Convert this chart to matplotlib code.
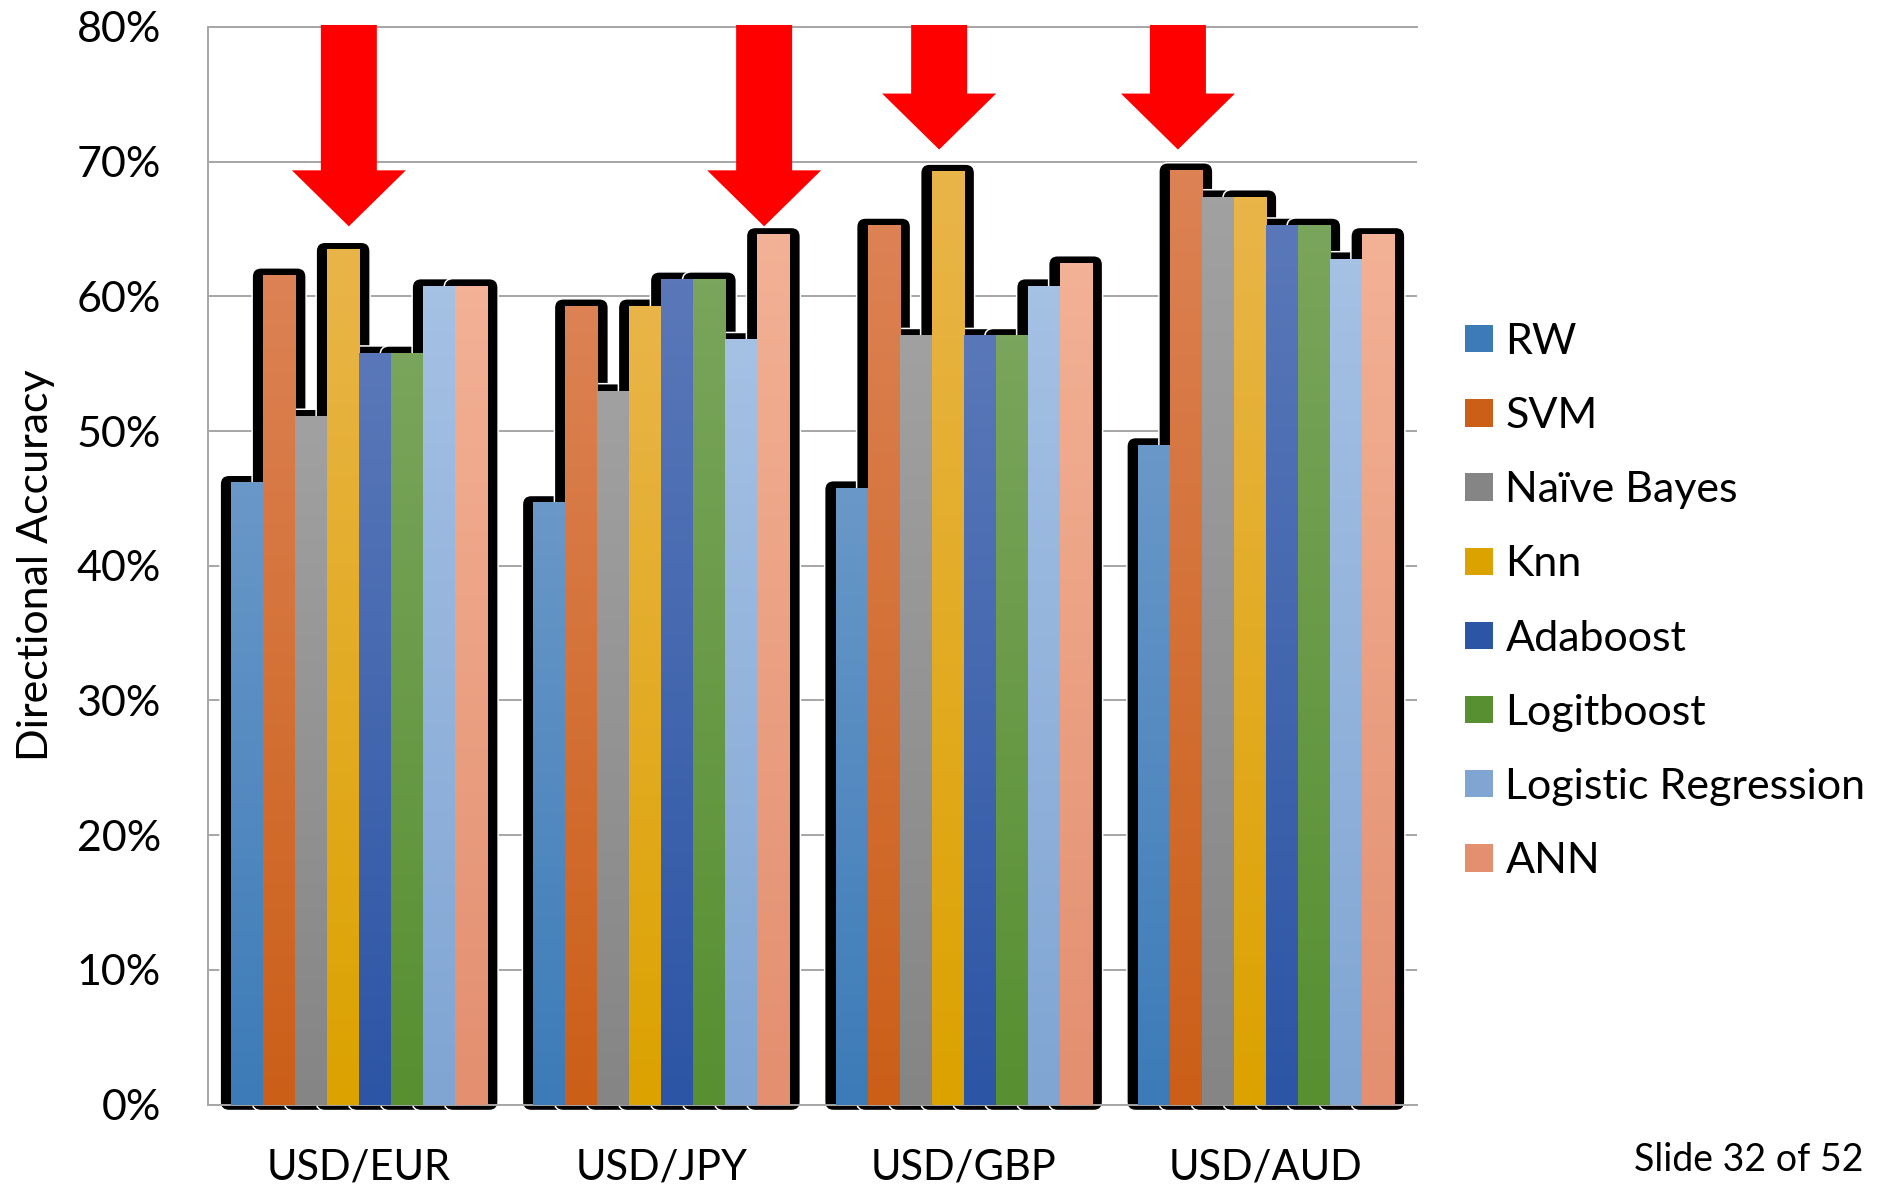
import numpy as np
import matplotlib
matplotlib.use("Agg")
import matplotlib.pyplot as plt
from matplotlib.patches import FancyBboxPatch, Polygon, Patch
from matplotlib.colors import LinearSegmentedColormap

plt.rcParams["font.family"] = ["Lato", "DejaVu Sans"]

# ---- data -------------------------------------------------------------
pairs = ["USD/EUR", "USD/JPY", "USD/GBP", "USD/AUD"]
models = ["RW", "SVM", "Naïve Bayes", "Knn", "Adaboost", "Logitboost",
          "Logistic Regression", "ANN"]

rw       = [46.2, 44.7, 45.8, 49.0]
svm      = [61.6, 59.3, 65.3, 69.4]
nbayes   = [51.1, 53.0, 57.1, 67.4]
knn      = [63.5, 59.3, 69.3, 67.4]
adaboost = [55.8, 61.3, 57.1, 65.3]
logitb   = [55.8, 61.3, 57.1, 65.3]
logreg   = [60.8, 56.8, 60.8, 62.8]
ann      = [60.8, 64.6, 62.5, 64.6]
series = [rw, svm, nbayes, knn, adaboost, logitb, logreg, ann]

yticks = [0, 10, 20, 30, 40, 50, 60, 70, 80]
ytick_labels = [f"{v}%" for v in yticks]

# highlight arrows: tip position (x in category units, y in %)
arrow_tips = [(-0.034, 65.2), (1.340, 65.2), (1.919, 70.9), (2.709, 70.9)]

# ---- styling ----------------------------------------------------------
top_colors = ["#6a98c8", "#dc8254", "#a1a1a1", "#e9b549",
              "#5a78b9", "#7aa55c", "#a5c1e4", "#f3b195"]
bottom_colors = ["#3c7bb8", "#cb5f18", "#858585", "#dca200",
                 "#2c55a5", "#578f31", "#80a5d3", "#e38f70"]
grid_color = "#a6a6a6"

W, H, DPI = 1879, 1186, 100
fig = plt.figure(figsize=(W / DPI, H / DPI), dpi=DPI)
ax = fig.add_axes([208 / W, 1 - 1104.5 / H, 1209 / W, 1077.5 / H])

n = len(series)
bar_w = 0.847 / n
x = np.arange(len(pairs))

# pixel-based sizes for the black halo around each bar
px_x = 1209 / 4.0          # pixels per category unit
px_y = 1077.5 / 80.0       # pixels per percent
pad_x = 11 / px_x
pad_top = 7 / px_y
radius = 9 / px_x
aspect = px_x / px_y

grad = np.linspace(0, 1, 256).reshape(-1, 1)

for i, vals in enumerate(series):
    offs = x + (i - (n - 1) / 2) * bar_w
    bars = ax.bar(offs, vals, width=bar_w, color=bottom_colors[i],
                  linewidth=0, zorder=3)
    cmap = LinearSegmentedColormap.from_list(
        f"g{i}", [bottom_colors[i], top_colors[i]])
    for b in bars:
        x0, w, h = b.get_x(), b.get_width(), b.get_height()
        halo = FancyBboxPatch(
            (x0 - pad_x, -0.45), w + 2 * pad_x, h + 0.45 + pad_top,
            boxstyle=f"round,pad=0,rounding_size={radius}",
            mutation_aspect=aspect, facecolor="black",
            edgecolor="white", linewidth=1.1, zorder=2 + 0.01 * i,
            clip_on=False)
        ax.add_patch(halo)
        ax.imshow(grad, extent=[x0, x0 + w, 0, h], origin="lower",
                  cmap=cmap, aspect="auto", interpolation="bilinear",
                  zorder=3.1)

# red down arrows
shaft_hw = 28 / px_x
head_hw = 57 / px_x
head_len = 56 / px_y
arrow_top = 80.15
for tx, ty in arrow_tips:
    hb = ty + head_len
    pts = [(tx - shaft_hw, arrow_top), (tx + shaft_hw, arrow_top),
           (tx + shaft_hw, hb), (tx + head_hw, hb), (tx, ty),
           (tx - head_hw, hb), (tx - shaft_hw, hb)]
    ax.add_patch(Polygon(pts, closed=True, facecolor="#ff0000",
                         edgecolor="none", zorder=5, clip_on=False))

ax.set_xlim(-0.5, len(pairs) - 0.5)
ax.set_ylim(0, 80)
ax.set_yticks(yticks)
ax.set_yticklabels(ytick_labels)
ax.set_xticks(x)
ax.set_xticklabels(pairs)
ax.tick_params(axis="y", length=0, pad=34, labelsize=31)
ax.tick_params(axis="x", length=0, pad=32, labelsize=30)

ax.set_axisbelow(True)
ax.yaxis.grid(True, color=grid_color, linewidth=1.4, zorder=0.5)
for side in ["left", "bottom", "top"]:
    ax.spines[side].set_color(grid_color)
    ax.spines[side].set_linewidth(1.4)
ax.spines["right"].set_visible(False)
ax.spines["top"].set_zorder(0.6)

fig.text(36 / W, 1 - 565 / H, "Directional Accuracy", rotation=90,
         ha="center", va="center", fontsize=31)

handles = [Patch(facecolor=c, edgecolor="none") for c in bottom_colors]
fig.legend(handles, models, loc="upper left",
           bbox_to_anchor=(1465 / W, 1 - 323 / H), frameon=False,
           fontsize=31, handlelength=0.64, handleheight=0.6,
           handletextpad=0.3, labelspacing=0.84, borderaxespad=0,
           borderpad=0)

fig.text(1863 / W, 1 - 1160 / H, "Slide 32 of 52", ha="right",
         va="center", fontsize=27)

fig.savefig("out.png", dpi=DPI)
